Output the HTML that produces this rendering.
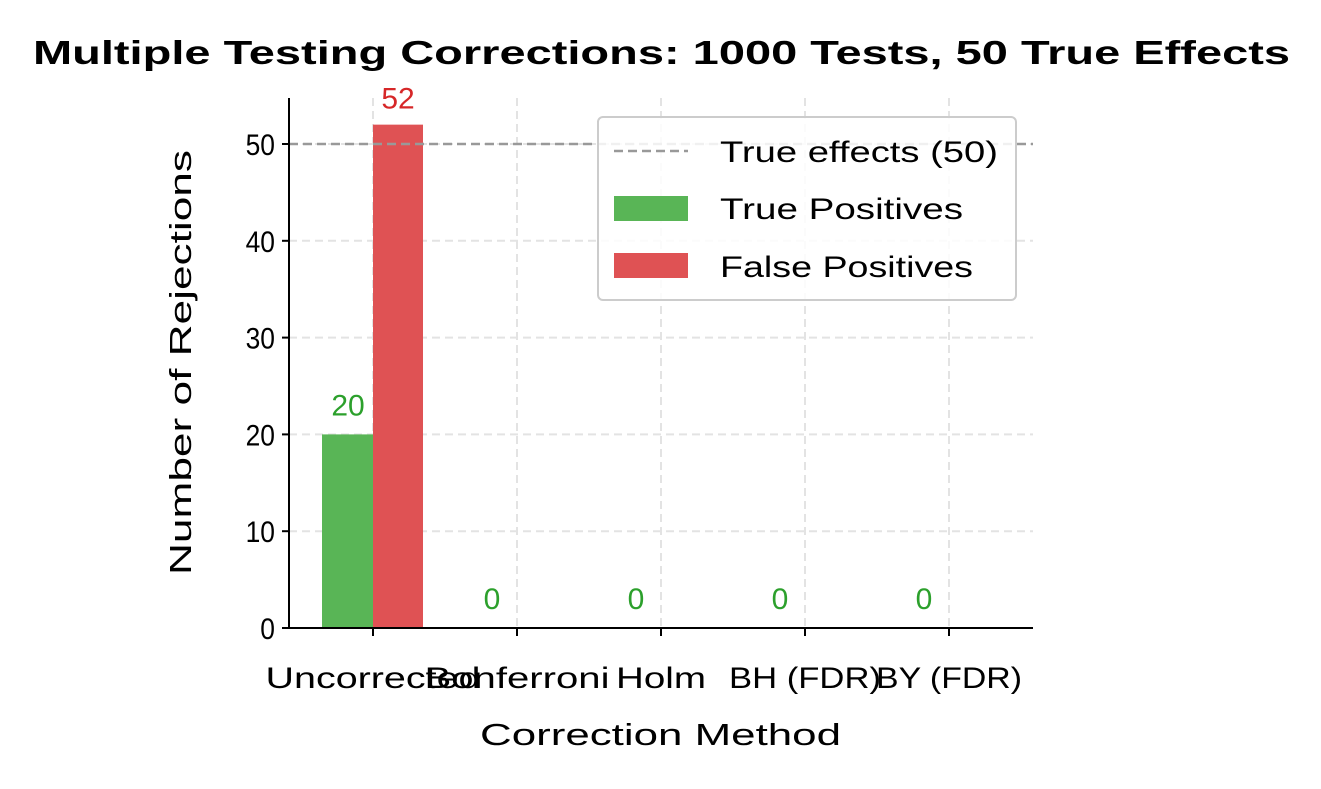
<!DOCTYPE html>
<html><head><meta charset="utf-8"><style>
body{margin:0;background:#fff;}
svg text{font-family:"Liberation Sans","DejaVu Sans",sans-serif;}
</style></head><body>
<svg id="chart" width="1321" height="784" xmlns="http://www.w3.org/2000/svg">
<text x="33" y="64" font-size="33" font-weight="bold" textLength="1257" lengthAdjust="spacingAndGlyphs">Multiple Testing Corrections: 1000 Tests, 50 True Effects</text>
<g id="grid"></g>
<g id="bars"></g>
<g id="axes"></g>
<text x="480" y="745" font-size="31" textLength="361" lengthAdjust="spacingAndGlyphs">Correction Method</text>
<text transform="translate(191,575) rotate(-90)" font-size="31" textLength="425" lengthAdjust="spacingAndGlyphs">Number of Rejections</text>
<g>
<rect x="598" y="117" width="418" height="183" rx="5" fill="#fff" fill-opacity="0.85" stroke="#ccc" stroke-width="2"/>
<line x1="614" y1="151" x2="688" y2="151" stroke="#999" stroke-width="2.5" stroke-dasharray="9,5"/>
<text x="720" y="162" font-size="30" textLength="278" lengthAdjust="spacingAndGlyphs">True effects (50)</text>
<rect x="614" y="196" width="74" height="25" fill="#59b556"/>
<text x="720" y="219" font-size="30" textLength="243" lengthAdjust="spacingAndGlyphs">True Positives</text>
<rect x="614" y="253" width="74" height="25" fill="#df5254"/>
<text x="720" y="277" font-size="30" textLength="253" lengthAdjust="spacingAndGlyphs">False Positives</text>
</g>
</svg>
<script>
const categories=["Uncorrected","Bonferroni","Holm","BH (FDR)","BY (FDR)"];
const truePos=[20,0,0,0,0];
const falsePos=[52,0,0,0,0];
const yTicks=[0,10,20,30,40,50];
const trueEffects=50;
const NS="http://www.w3.org/2000/svg";
const L=289,R=1033,B=628,T=98;
const y=v=>B-v*9.68;
const x=i=>373+i*144;
function mk(tag,attrs,parent,txt){const e=document.createElementNS(NS,tag);for(const k in attrs)e.setAttribute(k,attrs[k]);if(txt!==undefined)e.textContent=txt;document.getElementById(parent).appendChild(e);return e;}
yTicks.forEach(t=>{const g=mk('line',{x1:L,x2:R,y1:y(t),y2:y(t),stroke:'#e3e3e3','stroke-width':2,'stroke-dasharray':'8,5'},'grid');


const tl=mk('text',{x:L-14,y:y(t)+11,'text-anchor':'end','font-size':30,transform:`translate(${L-14},0) scale(0.88,1) translate(${-(L-14)},0)`},'axes',t);


mk('line',{x1:L-7,x2:L,y1:y(t),y2:y(t),stroke:'#000','stroke-width':2},'axes');});
const xLabelWidths=[215,185,90,152,146];
categories.forEach((c,i)=>{const g=mk('line',{x1:x(i),x2:x(i),y1:T,y2:B,stroke:'#e3e3e3','stroke-width':2,'stroke-dasharray':'8,5'},'grid');


const gb=mk('rect',{x:x(i)-51,y:y(truePos[i]),width:51,height:B-y(truePos[i]),fill:'#59b556'},'bars');


const rb=mk('rect',{x:x(i),y:y(falsePos[i]),width:50,height:B-y(falsePos[i]),fill:'#df5254'},'bars');


const gl=mk('text',{x:x(i)-25,y:y(truePos[i])-19,'text-anchor':'middle','font-size':30,fill:'#2ca02c'},'bars',truePos[i]);


if(falsePos[i]>0){const rl=mk('text',{x:x(i)+25,y:y(falsePos[i])-16,'text-anchor':'middle','font-size':30,fill:'#d62728'},'bars',falsePos[i]);

}
mk('line',{x1:x(i),x2:x(i),y1:B,y2:B+8,stroke:'#000','stroke-width':2},'axes');
const xl=mk('text',{x:x(i)-xLabelWidths[i]/2,y:B+60,'font-size':30,textLength:xLabelWidths[i],lengthAdjust:'spacingAndGlyphs'},'axes',c);

});
const ref=mk('line',{x1:L,x2:R,y1:y(trueEffects),y2:y(trueEffects),stroke:'#999','stroke-width':2.5,'stroke-dasharray':'9,5'},'bars');


mk('line',{x1:L,x2:L,y1:T,y2:B+1,stroke:'#000','stroke-width':2},'axes');
mk('line',{x1:L-1,x2:R,y1:B,y2:B,stroke:'#000','stroke-width':2},'axes');
</script>
</body></html>
